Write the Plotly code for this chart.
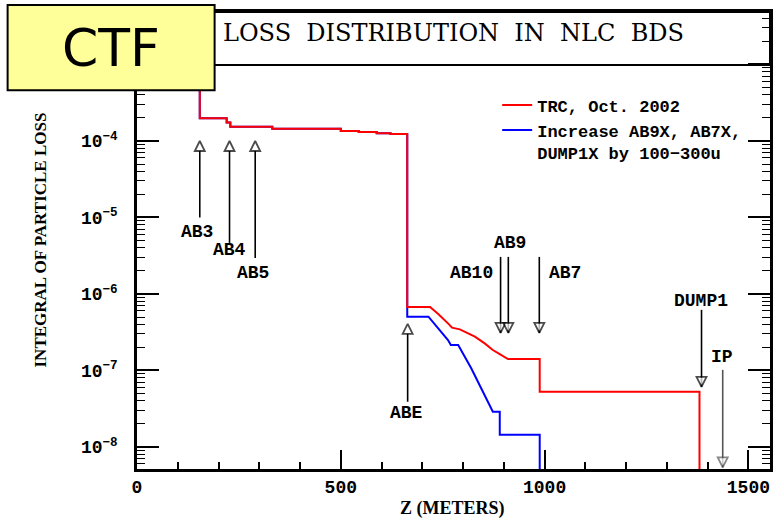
import numpy as np
import plotly.graph_objects as go

# ---- beam-loss curves (integral of particle loss vs. Z) ----
z_trc = [154, 154, 220, 220, 229, 229, 332, 332, 500, 500, 544, 544, 588, 588,
         622, 622, 663, 663, 719, 739, 763, 773, 792, 829, 853, 873, 890, 910,
         988, 988, 1380, 1380]
loss_trc = [2.0e-3, 1.98e-4, 1.98e-4, 1.75e-4, 1.75e-4, 1.54e-4, 1.54e-4, 1.44e-4,
            1.44e-4, 1.35e-4, 1.35e-4, 1.31e-4, 1.31e-4, 1.26e-4, 1.26e-4, 1.23e-4,
            1.23e-4, 6.75e-7, 6.75e-7, 5.48e-7, 4.13e-7, 3.63e-7, 3.45e-7, 2.77e-7,
            2.26e-7, 1.85e-7, 1.64e-7, 1.41e-7, 1.41e-7, 5.28e-8, 5.28e-8, 1.0e-9]

z_inc = [154, 154, 220, 220, 229, 229, 332, 332, 500, 500, 544, 544, 588, 588,
         622, 622, 663, 663, 715, 763, 770, 788, 820, 845, 873, 890, 890, 988, 988]
loss_inc = [2.0e-3, 1.98e-4, 1.98e-4, 1.75e-4, 1.75e-4, 1.54e-4, 1.54e-4, 1.44e-4,
            1.44e-4, 1.35e-4, 1.35e-4, 1.31e-4, 1.31e-4, 1.26e-4, 1.26e-4, 1.23e-4,
            1.23e-4, 5.05e-7, 5.05e-7, 2.5e-7, 2.15e-7, 2.15e-7, 1.07e-7, 5.85e-8,
            2.89e-8, 2.89e-8, 1.44e-8, 1.44e-8, 1.0e-9]

# ---- collimator / dump markers ----
marker_names = ["AB3", "AB4", "AB5", "ABE", "AB10", "AB9", "AB7", "DUMP1", "IP"]
marker_z = [154, 227, 290, 664, 892, 911, 987, 1385, 1437]
marker_tail = [1.0e-5, 4.65e-6, 2.95e-6, 3.9e-8, 3.05e-6, 3.05e-6, 3.05e-6, 6.2e-7, 1.02e-7]
marker_tip = [1.0e-4, 1.0e-4, 1.0e-4, 4.07e-7, 3.1e-7, 3.1e-7, 3.1e-7, 6.1e-8, 5.4e-9]
marker_color = ["black"] * 8 + ["#555555"]

label_z = [147, 227, 285, 662, 879, 916, 1007, 1383, 1434]
label_loss = [6.5e-6, 3.76e-6, 1.9e-6, 2.8e-8, 1.88e-6, 4.7e-6, 1.88e-6, 8.1e-7, 1.48e-7]
label_anchor = ["center", "center", "center", "center", "right", "center", "left",
                "center", "center"]

# ---- axes ----
x_major = [0, 500, 1000, 1500]
x_minor = [v for v in range(100, 1500, 100) if v % 500]
y_major = [1e-8, 1e-7, 1e-6, 1e-5, 1e-4, 1e-3]
y_exponents = ["−8", "−7", "−6", "−5", "−4", ""]
y_minor = [k * 10.0 ** e for e in range(-9, -2) for k in range(2, 10)]

MONO = "Liberation Mono"
SERIF = "Liberation Serif"

y_labels = [f"10<sup>{e}</sup>" if e else "" for e in y_exponents]

fig = go.Figure()

fig.add_trace(go.Scatter(
    x=z_inc, y=loss_inc, mode="lines", name="Increase AB9X, AB7X,<br>DUMP1X by 100−300u",
    line=dict(color="#0000FF", width=2), legendrank=2))
fig.add_trace(go.Scatter(
    x=z_trc, y=loss_trc, mode="lines", name="TRC, Oct. 2002",
    line=dict(color="#FF0000", width=2), legendrank=1))

for name, z, tail, tip, col in zip(marker_names, marker_z, marker_tail, marker_tip, marker_color):
    head = "arrow-up" if tip > tail else "arrow-down"
    fig.add_trace(go.Scatter(
        x=[z, z], y=[tail, tip], mode="lines+markers", showlegend=False, hoverinfo="skip",
        line=dict(color=col, width=1.6),
        marker=dict(symbol=["circle", head], size=[0, 10], color="white",
                    line=dict(color=col, width=1.8))))

for name, z, v, anc in zip(marker_names, label_z, label_loss, label_anchor):
    fig.add_annotation(x=z, y=np.log10(v), xref="x", yref="y", text=name,
                       showarrow=False, xanchor=anc, yanchor="middle",
                       font=dict(family=MONO, size=18, color="black", weight="bold"))

fig.update_xaxes(
    range=[0, 1553], tickmode="array", tickvals=x_major, ticks="inside", ticklen=19,
    tickwidth=2, tickcolor="black", showline=True, linewidth=2.5, linecolor="black",
    mirror=True, showgrid=False, zeroline=False, ticklabelstandoff=0,
    tickfont=dict(family=MONO, size=18, color="black", weight="bold"),
    minor=dict(tickmode="array", tickvals=x_minor, ticks="inside", ticklen=7,
               tickwidth=1.5, tickcolor="black", showgrid=False))

fig.update_yaxes(
    type="log", range=[-8.288, -2.314], tickmode="array", tickvals=y_major,
    ticktext=y_labels, ticks="inside", ticklen=22, tickwidth=2, tickcolor="black",
    showline=True, linewidth=2.5, linecolor="black", mirror="allticks",
    showgrid=False, zeroline=False, ticklabelstandoff=13,
    tickfont=dict(family=MONO, size=18, color="black", weight="bold"),
    minor=dict(tickmode="array", tickvals=y_minor, ticks="inside", ticklen=8,
               tickwidth=1.3, tickcolor="black", showgrid=False))

# title panel across the top of the frame
fig.add_shape(type="rect", xref="paper", yref="paper", x0=0, x1=1, y0=0.884, y1=1,
              fillcolor="white", line=dict(color="black", width=2), layer="below")
fig.add_annotation(xref="paper", yref="paper", x=0.5, y=0.954, text="LOSS  DISTRIBUTION  IN  NLC  BDS",
                   showarrow=False, xanchor="center", yanchor="middle",
                   font=dict(family="DejaVu Serif", size=24, color="black"))

# CTF badge
fig.add_shape(type="rect", xref="paper", yref="paper", x0=-0.2044, x1=0.1226,
              y0=0.829, y1=1.0153, fillcolor="#FFFF99", line=dict(color="black", width=2),
              layer="above")
fig.add_annotation(xref="paper", yref="paper", x=-0.0409, y=0.921, text="CTF",
                   showarrow=False, xanchor="center", yanchor="middle",
                   font=dict(family="Comic Sans MS, DejaVu Sans", size=52, color="black"))

# axis titles
fig.add_annotation(xref="paper", yref="paper", x=-0.1525, y=0.501,
                   text="INTEGRAL OF PARTICLE LOSS", textangle=-90, showarrow=False,
                   xanchor="center", yanchor="middle",
                   font=dict(family=SERIF, size=17, color="black", weight="bold"))
fig.add_annotation(xref="paper", yref="paper", x=0.498, y=-0.0875,
                   text="Z (METERS)", showarrow=False, xanchor="center", yanchor="middle",
                   font=dict(family=SERIF, size=18, color="black", weight="bold"))

fig.update_layout(
    width=775, height=521, margin=dict(l=137, r=2, t=12, b=52),
    plot_bgcolor="white", paper_bgcolor="white", showlegend=True,
    legend=dict(x=0.569, y=0.835, xanchor="left", yanchor="top", valign="top",
                bgcolor="rgba(0,0,0,0)", borderwidth=0, tracegroupgap=0,
                font=dict(family=MONO, size=17, color="black", weight="bold")))

fig.write_html("out.html")
